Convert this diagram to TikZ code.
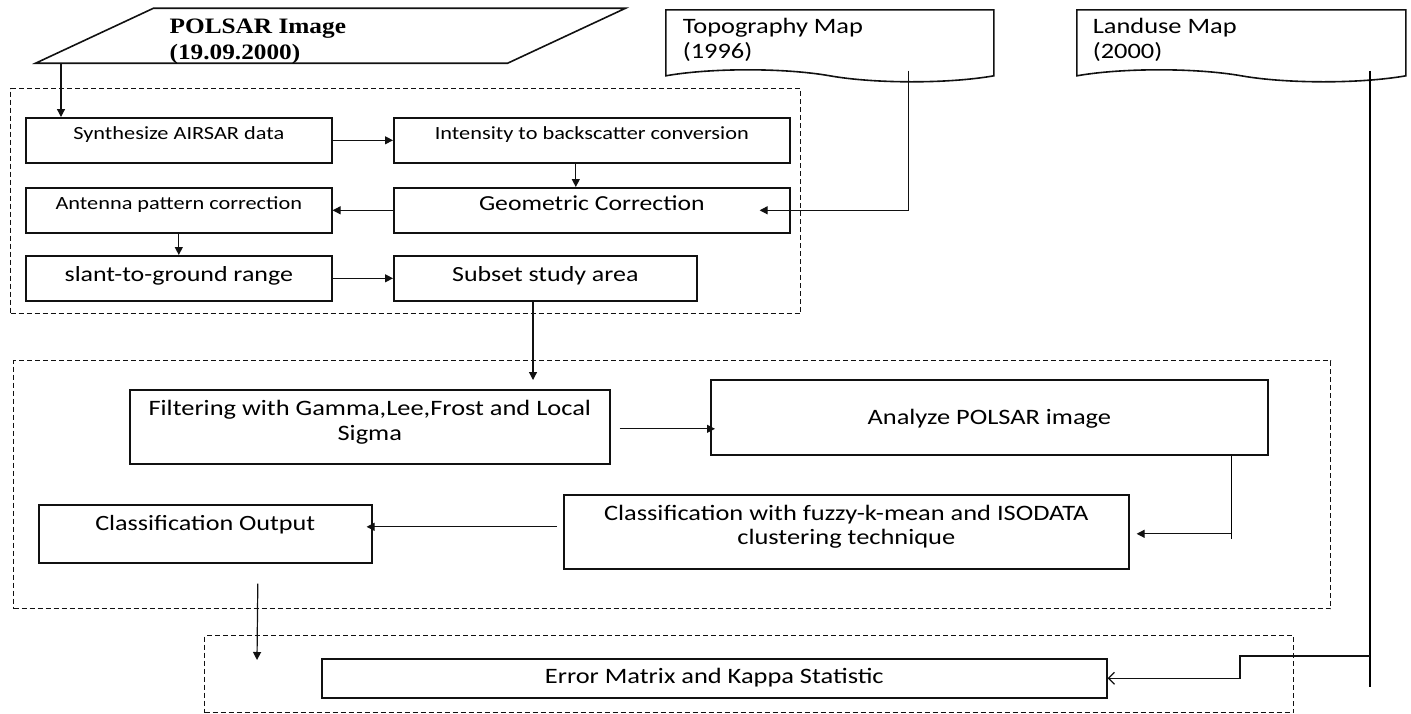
\documentclass[tikz,border=0pt]{standalone}
\usepackage{fontspec}
\setmainfont{Carlito}[FakeStretch=1.2]
\newfontfamily\polfont{Liberation Serif}[FakeStretch=1.15]
\usetikzlibrary{arrows.meta,positioning,calc,shapes.geometric,shapes.symbols}
\definecolor{flowInk}{HTML}{111111}

\begin{document}
\begin{tikzpicture}[x=0.5pt,y=-0.5pt,line width=0.6pt,
  procbox/.style={draw=flowInk,line width=0.8pt,anchor=north west,inner sep=0pt,align=flush center},
  sized/.style n args={3}{minimum width=#1,text height=#2,text depth=#3},
  grpbox/.style={draw=flowInk,dash pattern=on 2.5pt off 1.5pt,line width=0.6pt,anchor=north west,inner sep=0pt},
  docbox/.style={draw=flowInk,line width=0.8pt,shape=tape,tape bend top=none,tape bend bottom=out and in,
    tape bend height=6pt,anchor=north west,inner xsep=8.5pt,inner ysep=0pt,minimum height=36pt,
    text width=147pt,align=flush left,font=\fontsize{11}{12.5}\selectfont},
  arr/.style={draw=flowInk,-{Triangle[length=4pt,width=4pt]}},
  openarr/.style={draw=flowInk,-{Straight Barb[length=3pt,width=6pt]}}]
\useasboundingbox (0,0) rectangle (1411,713);

\node[grpbox,minimum width=395pt,minimum height=112.5pt] (grpA) at (10,88) {};
\node[grpbox,minimum width=658.5pt,minimum height=124pt] (grpB) at (13,360) {};
\node[grpbox,minimum width=544.5pt,minimum height=38.5pt] (grpC) at (204,635) {};

\node[draw=flowInk,line width=0.8pt,trapezium,trapezium left angle=25,trapezium right angle=155,
      trapezium stretches body=true,anchor=bottom left corner,inner sep=0pt,
      minimum width=295pt,minimum height=27.5pt,text width=161pt,text height=12.5pt,text depth=15pt,
      align=flush left,font=\polfont\bfseries\fontsize{11}{13}\selectfont]
      (polsar) at (32,64) {POLSAR Image\\(19.09.2000)};
\node[docbox] (topo) at (665,9) {Topography Map\\(1996)};
\node[docbox,minimum width=164.5pt,inner xsep=8pt,text width=148.5pt] (land) at (1076,9) {Landuse Map\\(2000)};

\node[procbox,sized={153pt}{11pt}{11.5pt},font=\fontsize{9.3}{11}\selectfont] (syn) at (25,117) {Synthesize AIRSAR data};
\node[procbox,sized={198pt}{11pt}{11.5pt},font=\fontsize{9.3}{11}\selectfont] (ints) at (393,117) {Intensity to backscatter conversion};
\node[procbox,sized={153pt}{10.75pt}{11.75pt},font=\fontsize{9.3}{11}\selectfont] (ant) at (25,187) {Antenna pattern correction};
\node[procbox,sized={198pt}{11.5pt}{11pt},font=\fontsize{10.7}{13}\selectfont] (geo) at (393,187) {Geometric Correction};
\node[procbox,sized={153pt}{13pt}{9.5pt},font=\fontsize{10.8}{12}\selectfont] (slant) at (25,255) {slant-to-ground range};
\node[procbox,sized={151.5pt}{13pt}{9.5pt},font=\fontsize{10.8}{12}\selectfont] (subs) at (393,255) {Subset study area};

\node[procbox,text width=240pt,text height=13pt,text depth=24pt,font=\fontsize{11}{12.5}\selectfont] (filt) at (129,389) {Filtering with Gamma,Lee,Frost and Local\\Sigma};
\node[procbox,sized={278.5pt}{22.5pt}{15pt},font=\fontsize{11}{13}\selectfont] (anl) at (710,379) {Analyze POLSAR image};
\node[procbox,text width=282.5pt,text height=13pt,text depth=24pt,font=\fontsize{11}{12}\selectfont] (fuz) at (563,494) {Classification with fuzzy-k-mean and ISODATA\\clustering technique};
\node[procbox,sized={166.5pt}{13pt}{16pt},font=\fontsize{10.9}{12}\selectfont] (cout) at (38,504) {Classification Output};
\node[procbox,sized={392.5pt}{12.5pt}{7pt},font=\fontsize{11}{12}\selectfont] (err) at (321,658) {Error Matrix and Kappa Statistic};

\coordinate (filtIn) at (533,380);
\coordinate (errIn) at (257,660);
\coordinate (landEnd) at (1370,687);
\coordinate (landTap) at (1370,656);
\coordinate (errStep) at (1240,656);

\draw[arr] ([xshift=14.5pt]polsar.bottom left corner) -- ([xshift=14.5pt]polsar.bottom left corner |- syn.north);
\draw[arr] (syn) -- (ints);
\draw[arr] ([xshift=-8pt]ints.south) -- ([xshift=-8pt]geo.north);
\draw[arr] (geo) -- (ant);
\draw[arr] (ant) -- (slant);
\draw[arr] (slant) -- (subs);
\draw[arr] ([xshift=-43pt]topo.south east) |- ([xshift=-15.5pt]geo.east);
\draw[arr] (filtIn |- subs.south) -- (filtIn);
\draw[arr] ([xshift=4.5pt,yshift=-1pt]filt.east) -- ([xshift=2.5pt,yshift=-1pt]filt.east -| anl.west);
\draw[arr] ([xshift=-18.5pt]anl.south east) |- ([xshift=3.5pt,yshift=-1pt]fuz.east);
\draw ([xshift=-18.5pt]anl.south east) -- ++(0,83);
\draw[arr] ([xshift=-3pt,yshift=2.5pt]fuz.west) -- ([xshift=-3pt,yshift=2.5pt]fuz.west -| cout.east);
\draw[arr] ([xshift=26.25pt,yshift=-10pt]cout.south) -- (errIn);
\draw (landEnd |- land.south east) -- (landEnd);
\draw[openarr] (landTap) -- (errStep) |- (err.east);
\end{tikzpicture}
\end{document}
